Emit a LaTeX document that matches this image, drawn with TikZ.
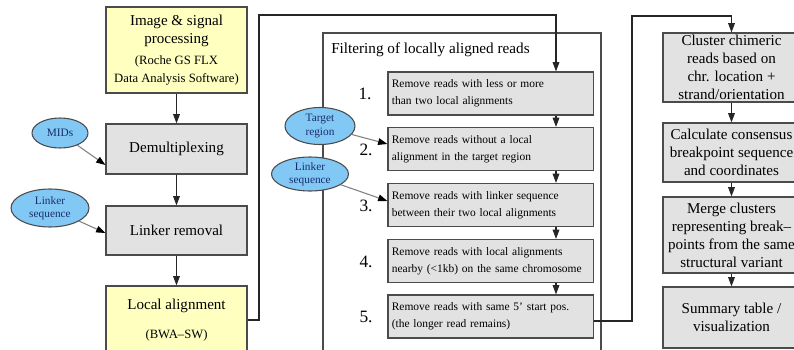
\documentclass[tikz,border=0pt]{standalone}
\usepackage{fontspec}
\setmainfont{Liberation Serif}
\usetikzlibrary{arrows.meta,shapes.geometric}

\definecolor{boxyellow}{RGB}{255,255,192}
\definecolor{boxgray}{RGB}{226,226,226}
\definecolor{ellblue}{RGB}{130,200,245}
\definecolor{elltext}{RGB}{25,45,110}
\definecolor{edgegray}{RGB}{75,75,75}

\newcommand{\bigtxt}{\fontsize{11.3}{13.5}\selectfont}
\newcommand{\subtxt}{\fontsize{9.5}{10.5}\selectfont}
\newcommand{\filtertxt}{\fontsize{8.6}{12.75}\selectfont\hyphenpenalty=10000}
\newcommand{\elltxt}{\fontsize{8.5}{10}\selectfont}

\begin{document}
\begin{tikzpicture}[x=0.75pt,y=0.75pt,yscale=-1,xscale=1,
    stage/.style={draw=edgegray, line width=0.8pt, fill=boxgray, inner sep=0pt, align=center, font=\bigtxt},
    yellowstage/.style={stage, fill=boxyellow},
    filterbox/.style={draw=edgegray, line width=0.8pt, fill=boxgray, minimum width=153.75pt, minimum height=32.25pt, inner xsep=2.9pt, inner ysep=0pt, text width=148pt, align=left, font=\filtertxt},
    resource/.style={ellipse, draw=edgegray, line width=0.8pt, fill=ellblue, inner sep=0pt, align=center, text=elltext, font=\elltxt},
    stepno/.style={inner sep=0pt, font=\fontsize{13}{14}\selectfont},
    flow/.style={draw=black!85, line width=0.8pt, -{Triangle[length=7pt,width=5pt]}},
    feed/.style={draw=gray, line width=0.8pt, -{Triangle[length=7pt,width=5pt,color=black]}},
  ]
  \useasboundingbox (0,0) rectangle (794,350);
  \clip (0,0) rectangle (794,350);

  % frame of the filtering steps
  \draw [draw=edgegray, line width=0.8pt] (323,33) rectangle (601,362);
  \node [anchor=west, inner sep=0pt, font=\fontsize{11.4}{13}\selectfont] (title) at (331,50) {Filtering of locally aligned reads};

  % bend points
  \coordinate (bendL) at (259,15);
  \coordinate (bendR) at (632,16);
  \coordinate (chainx) at (556,0);

  % left column
  \node [yellowstage, minimum width=105.75pt, minimum height=64.5pt] (img) at (176.5,50) {Image \& signal\\processing\\[2pt]\subtxt (Roche GS FLX\\\subtxt Data Analysis Software)};
  \node [stage, minimum width=105.75pt, minimum height=37.5pt] (demux) at (176.5,149) {Demultiplexing};
  \node [stage, minimum width=105.75pt, minimum height=36.75pt] (linkrm) at (176.5,230.5) {Linker removal};
  \node [yellowstage, minimum width=105.75pt, minimum height=51pt] (localign) at (176.5,320) {Local alignment\\[8pt]\subtxt (BWA--SW)};

  % filtering steps
  \node [filterbox] (f1) at (490.5,93.5) {Remove reads with less or more\\than two local alignments};
  \node [filterbox] (f2) at (490.5,149) {Remove reads without a local\\alignment in the target region};
  \node [filterbox] (f3) at (490.5,205) {Remove reads with linker sequence\\between their two local alignments};
  \node [filterbox] (f4) at (490.5,261) {Remove reads with local alignments\\nearby (<1kb) on the same chromosome};
  \node [filterbox] (f5) at (490.5,316.5) {Remove reads with same 5' start pos.\\(the longer read remains)};

  \node [stepno] (n1) at (365,94) {1.};
  \node [stepno] (n2) at (366,150) {2.};
  \node [stepno] (n3) at (366,206) {3.};
  \node [stepno] (n4) at (366,262) {4.};
  \node [stepno] (n5) at (366,317) {5.};

  % right column
  \node [stage, minimum width=102.75pt, minimum height=51.75pt] (c1) at (731.5,67.5) {Cluster chimeric\\reads based on\\chr. location +\\strand/orientation};
  \node [stage, minimum width=102.75pt, minimum height=44.25pt] (c2) at (731.5,152.5) {Calculate consensus\\breakpoint sequence\\and coordinates};
  \node [stage, minimum width=102.75pt, minimum height=57pt] (c3) at (731.5,235) {Merge clusters\\representing break--\\points from the same\\structural variant};
  \node [stage, minimum width=102.75pt, minimum height=45.75pt] (c4) at (731.5,317.5) {Summary table /\\visualization};

  % external inputs
  \node [resource, minimum width=42pt, minimum height=22.5pt] (mids) at (60,133) {MIDs};
  \node [resource, minimum width=58.5pt, minimum height=28.5pt] (linkseqA) at (50,208) {Linker\\sequence};
  \node [resource, minimum width=52.5pt, minimum height=27.75pt] (target) at (320,126) {Target\\region};
  \node [resource, minimum width=57.75pt, minimum height=25.5pt] (linkseqB) at (310,174) {Linker\\sequence};

  % connectors
  \draw [flow] (img) -- (demux);
  \draw [flow] (demux) -- (linkrm);
  \draw [flow] (linkrm) -- (localign);
  \draw [flow] (localign.east) -| (bendL) -| (f1.north -| chainx);
  \draw [flow] (f1.south -| chainx) -- (f2.north -| chainx);
  \draw [flow] (f2.south -| chainx) -- (f3.north -| chainx);
  \draw [flow] (f3.south -| chainx) -- (f4.north -| chainx);
  \draw [flow] (f4.south -| chainx) -- (f5.north -| chainx);
  \draw [flow] (f5.east |- 0,321) -| (bendR) -| (c1.north);
  \draw [flow] (c1) -- (c2);
  \draw [flow] (c2) -- (c3);
  \draw [flow] (c3) -- (c4);

  \draw [feed] (mids) -- (demux.west |- 0,165);
  \draw [feed] (linkseqA) -- (linkrm.west |- 0,233);
  \draw [feed] (target) -- (f2.west |- 0,144);
  \draw [feed] (linkseqB) -- (f3.west |- 0,201);
\end{tikzpicture}
\end{document}
